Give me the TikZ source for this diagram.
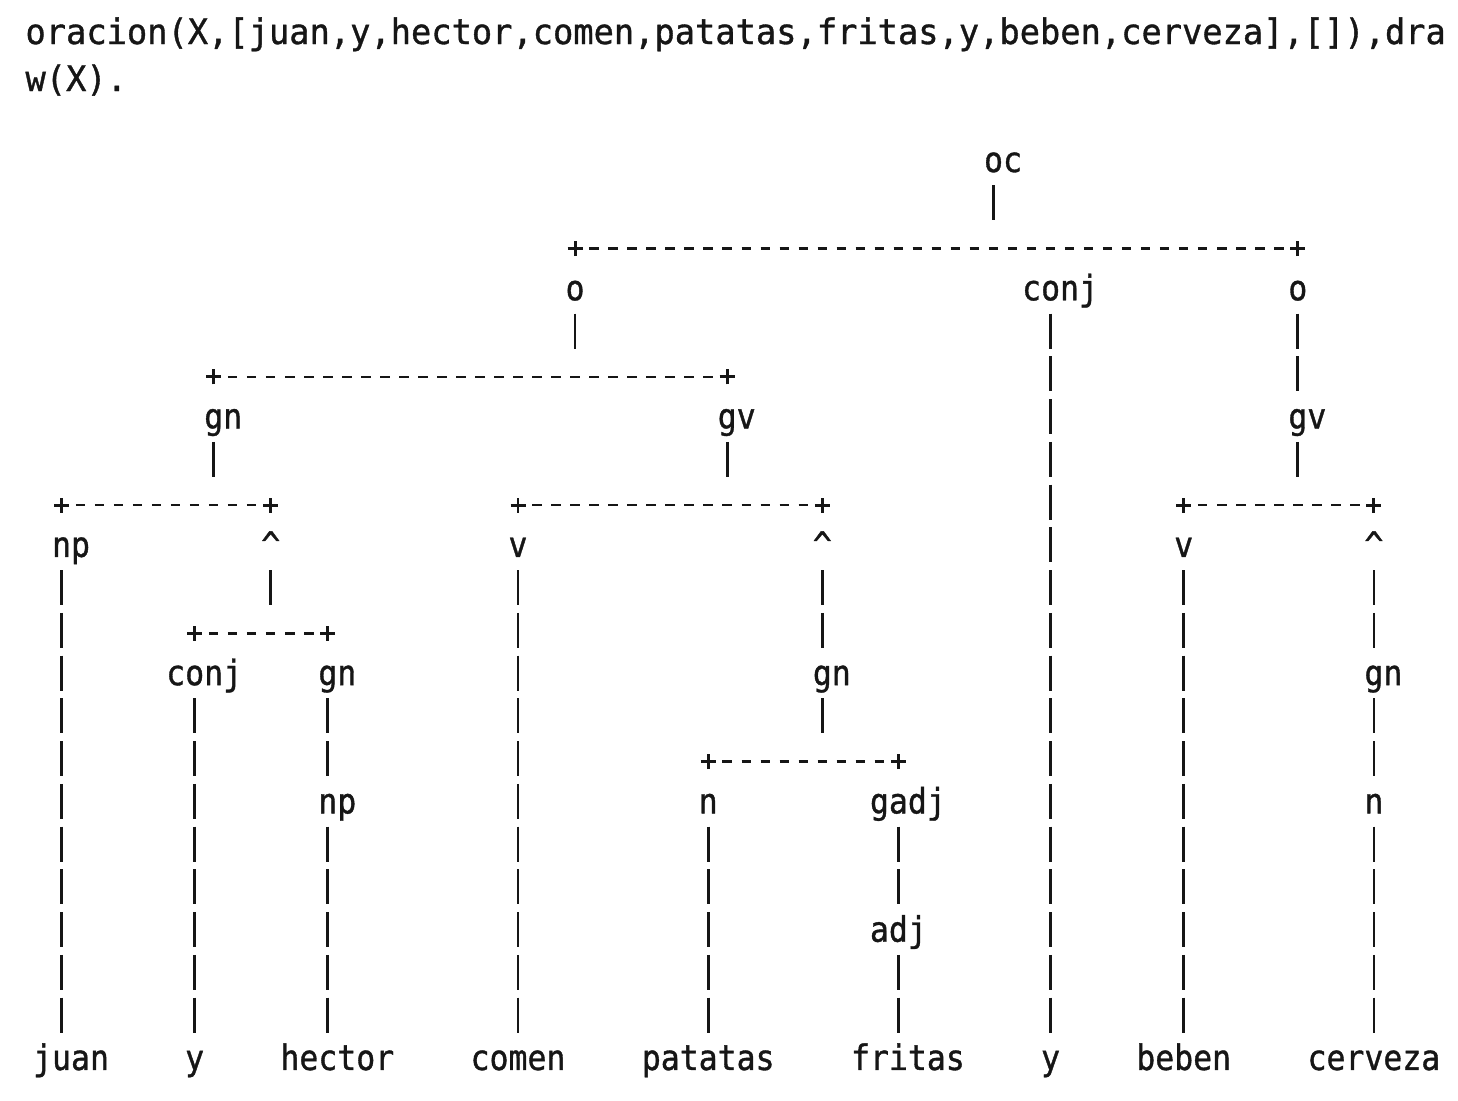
\documentclass[tikz,border=0pt]{standalone}
\usepackage{fontspec}
\newfontfamily\treefont[FakeStretch=0.9,FakeBold=1.0]{DejaVu Sans Mono}
\newfontfamily\topfont[FakeStretch=0.963,FakeBold=1.0]{DejaVu Sans Mono}
\definecolor{ink}{RGB}{22,22,22}
\newcommand\lab[5]{\node[lab] (#1) at ({33+19.02*(#2+#3/2)},{-(172+42.76*#4)}) {#5};}
\newcommand\vbars[3]{\draw[vb] ({42.5+19.02*#1},{-(160+42.76*#2)+17.5}) -- ({42.5+19.02*#1},{-(160+42.76*#3)-17.5});}
\newcommand\brk[3]{%
  \pgfmathsetmacro\yy{-(163+42.76*#3)}%
  \pgfmathsetmacro\xa{42.5+19.02*#1}%
  \pgfmathsetmacro\xb{42.5+19.02*#2}%
  \draw[pl] ({\xa-7.5},{\yy}) -- ({\xa+7.5},{\yy}) ({\xa},{\yy-7.5}) -- ({\xa},{\yy+7.5});
  \draw[pl] ({\xb-7.5},{\yy}) -- ({\xb+7.5},{\yy}) ({\xb},{\yy-7.5}) -- ({\xb},{\yy+7.5});
  \draw[hb] ({\xa+19.02-4.75},{\yy}) -- ({\xb-19.02+4.75},{\yy});}
\begin{document}
\begin{tikzpicture}[x=1pt,y=1pt,
  lab/.style={anchor=base, inner sep=0pt, font=\treefont\fontsize{35}{40}\selectfont, text=ink},
  toptext/.style={anchor=base west, inner sep=0pt, font=\topfont\fontsize{35}{40}\selectfont, text=ink},
  vb/.style={line width=2.8pt, draw=ink, dash pattern=on 35pt off 7.76pt},
  hb/.style={line width=2.6pt, draw=ink, dash pattern=on 9.5pt off 9.52pt},
  pl/.style={line width=2.9pt, draw=ink}]
\fill[white] (0,0) rectangle (1458,-1100);
\useasboundingbox (0,0) rectangle (1458,-1100);
% query text
\node[toptext] (q1) at (25.3,-44) {oracion(X,[juan,y,hector,comen,patatas,fritas,y,beben,cerveza],[]),dra};
\node[toptext] (q2) at (25.3,-91) {w(X).};
% labels: name, first column, chars, row, text
\lab{oc}{50}{2}{0}{oc}
\lab{o1}{28}{1}{3}{o}
\lab{conj1}{52}{4}{3}{conj}
\lab{o2}{66}{1}{3}{o}
\lab{gn1}{9}{2}{6}{gn}
\lab{gv1}{36}{2}{6}{gv}
\lab{gv2}{66}{2}{6}{gv}
\lab{np1}{1}{2}{9}{np}
\lab{c1}{12}{1}{9}{\textasciicircum}
\lab{v1}{25}{1}{9}{v}
\lab{c2}{41}{1}{9}{\textasciicircum}
\lab{v2}{60}{1}{9}{v}
\lab{c3}{70}{1}{9}{\textasciicircum}
\lab{conj2}{7}{4}{12}{conj}
\lab{gn2}{15}{2}{12}{gn}
\lab{gn3}{41}{2}{12}{gn}
\lab{gn4}{70}{2}{12}{gn}
\lab{np2}{15}{2}{15}{np}
\lab{n1}{35}{1}{15}{n}
\lab{gadj}{44}{4}{15}{gadj}
\lab{n2}{70}{1}{15}{n}
\lab{adj}{44}{3}{18}{adj}
\lab{juan}{0}{4}{21}{juan}
\lab{y1}{8}{1}{21}{y}
\lab{hector}{13}{6}{21}{hector}
\lab{comen}{23}{5}{21}{comen}
\lab{patatas}{32}{7}{21}{patatas}
\lab{fritas}{43}{6}{21}{fritas}
\lab{y2}{53}{1}{21}{y}
\lab{beben}{58}{5}{21}{beben}
\lab{cerveza}{67}{7}{21}{cerveza}
% brackets
\brk{28}{66}{2}
\brk{9}{36}{5}
\brk{1}{12}{8}
\brk{25}{41}{8}
\brk{60}{70}{8}
\brk{8}{15}{11}
\brk{35}{45}{14}
% vertical bars: column, first row, last row
\vbars{50}{1}{1}
\vbars{28}{4}{4}
\vbars{53}{4}{20}
\vbars{66}{4}{5}
\vbars{9}{7}{7}
\vbars{36}{7}{7}
\vbars{66}{7}{7}
\vbars{1}{10}{20}
\vbars{12}{10}{10}
\vbars{25}{10}{20}
\vbars{41}{10}{11}
\vbars{60}{10}{20}
\vbars{70}{10}{11}
\vbars{8}{13}{20}
\vbars{15}{13}{14}
\vbars{15}{16}{20}
\vbars{41}{13}{13}
\vbars{35}{16}{20}
\vbars{45}{16}{17}
\vbars{45}{19}{20}
\vbars{70}{13}{14}
\vbars{70}{16}{20}
\end{tikzpicture}
\end{document}
